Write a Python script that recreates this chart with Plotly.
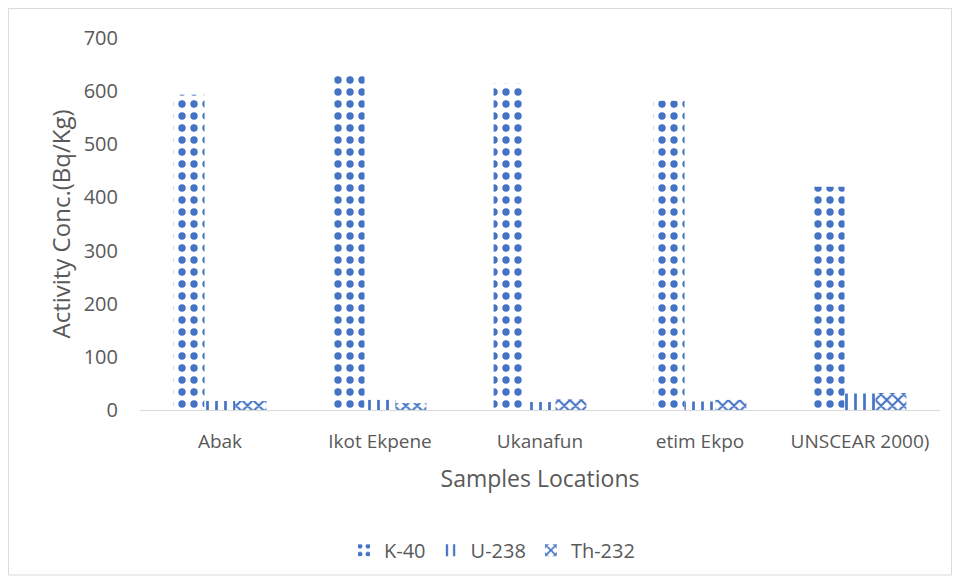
import plotly.graph_objects as go

categories = ["Abak", "Ikot Ekpene", "Ukanafun", "etim Ekpo", "UNSCEAR 2000)"]
k40 = [593, 636, 614, 582, 420]
u238 = [17, 19, 15, 16, 31]
th232 = [17, 13, 20, 19, 32]

BLUE = "#4472C4"
TXT = "#595959"
FONT = "Open Sans"

fig = go.Figure()
series = [("K-40", k40, ".", 12, 0.3), ("U-238", u238, "|", 9, 0.3), ("Th-232", th232, "x", 8, 0.45)]
for name, vals, shape, size, sol in series:
    fig.add_trace(go.Bar(
        name=name, x=categories, y=vals,
        marker=dict(color="white", line=dict(width=0),
                    pattern=dict(shape=shape, fgcolor=BLUE, bgcolor="white",
                                 size=size, solidity=sol, fillmode="replace")),
    ))

fig.update_layout(
    barmode="group", bargap=0.42, bargroupgap=0.0,
    width=944, height=575,
    margin=dict(l=132, r=12, t=30, b=173),
    plot_bgcolor="white", paper_bgcolor="white",
    font=dict(family=FONT, color=TXT, size=18),
    showlegend=True,
    legend=dict(orientation="h", x=0.44, xanchor="center", y=-0.377, yanchor="middle",
                font=dict(size=20, color=TXT), itemwidth=30),
    shapes=[dict(type="rect", xref="paper", yref="paper",
                 x0=-0.1645, x1=1.0145, y0=-0.4435, y1=1.0795,
                 line=dict(color="#D9D9D9", width=1))],
)
fig.update_xaxes(showline=True, linecolor="#D9D9D9", linewidth=1, ticks="",
                 tickfont=dict(size=19, color=TXT), ticklabelstandoff=14,
                 title=dict(text="Samples Locations", font=dict(size=23, color=TXT), standoff=18))
fig.update_yaxes(range=[0, 700], dtick=100, showgrid=False, zeroline=False,
                 showline=False, tickfont=dict(size=20, color=TXT), ticks="",
                 ticklabelstandoff=21,
                 title=dict(text="Activity Conc.(Bq/Kg)", font=dict(size=24, color=TXT), standoff=6))

fig.write_html("out.html")
